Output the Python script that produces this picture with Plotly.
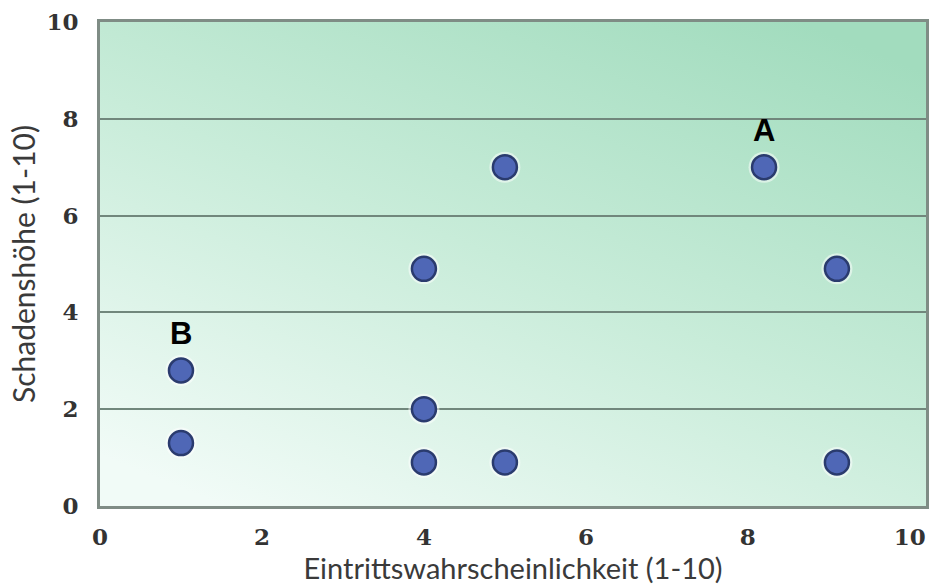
import base64
import plotly.graph_objects as go

# Data
probability = [1, 1, 4, 4, 4, 5, 5, 8.2, 9.1, 9.1]
damage = [1.3, 2.8, 4.9, 2.0, 0.9, 7.0, 0.9, 7.0, 4.9, 0.9]
point_labels = ["", "B", "", "", "", "", "", "A", "", ""]
tick_vals = [0, 2, 4, 6, 8, 10]
x_title = "Eintrittswahrscheinlichkeit (1-10)"
y_title = "Schadenshöhe (1-10)"

# Gradient background as an SVG image
svg = """<svg xmlns='http://www.w3.org/2000/svg' width='100' height='100' preserveAspectRatio='none'>
<defs><linearGradient id='g' x1='0.15' y1='1' x2='0.85' y2='0'>
<stop offset='0' stop-color='#f1fbf7'/>
<stop offset='0.5' stop-color='#c8ecd9'/>
<stop offset='1' stop-color='#a2dcbe'/>
</linearGradient></defs>
<rect width='100' height='100' fill='url(#g)'/></svg>"""
bg_src = "data:image/svg+xml;base64," + base64.b64encode(svg.encode()).decode()

fig = go.Figure()
# soft white halo
fig.add_trace(go.Scatter(
    x=probability, y=damage, mode="markers",
    marker=dict(size=31, color="rgba(255,255,255,0.5)", line=dict(width=0)),
    hoverinfo="skip", showlegend=False))
fig.add_trace(go.Scatter(
    x=probability, y=damage, mode="markers",
    marker=dict(size=24, color="#4f67b6", line=dict(color="#2a3b6e", width=2.5)),
    showlegend=False))

for xv, yv, lab in zip(probability, damage, point_labels):
    if lab:
        fig.add_annotation(x=xv, y=yv, text=f"<b>{lab}</b>", showarrow=False,
                           yshift=37, xshift=0,
                           font=dict(family="Liberation Sans, Arial", size=31, color="#000"))

axis_font = dict(family="DejaVu Serif", size=23, color="#333333", weight="bold")
x_title_font = dict(family="Lato, Open Sans", size=29, color="#3a3a3a")
y_title_font = dict(family="Lato, Open Sans", size=30, color="#3a3a3a")

fig.update_layout(
    width=931, height=588,
    margin=dict(l=100, r=5, t=22, b=82),
    paper_bgcolor="white", plot_bgcolor="rgba(0,0,0,0)",
    images=[dict(source=bg_src, xref="paper", yref="paper", x=0, y=1,
                 sizex=1, sizey=1, sizing="stretch", layer="below",
                 xanchor="left", yanchor="top")],
    xaxis=dict(range=[0, 10.2], tickvals=tick_vals, showgrid=False, zeroline=False,
               showline=True, linecolor="#7f8c85", linewidth=3, mirror=True,
               tickfont=axis_font, ticks="", ticklabelstandoff=8, automargin=False,
               title=dict(text=x_title, font=x_title_font, standoff=2)),
    yaxis=dict(range=[0, 10], tickvals=tick_vals, showgrid=True, gridcolor="#71877c",
               gridwidth=2, zeroline=False,
               showline=True, linecolor="#7f8c85", linewidth=3, mirror=True,
               tickfont=axis_font, ticks="", ticklabelstandoff=14, automargin=False,
               title=dict(text=y_title, font=y_title_font, standoff=2)),
)
fig.write_html("out.html", config={"displayModeBar": False},
               post_script="document.body.style.margin='0';document.body.style.overflow='hidden';")
